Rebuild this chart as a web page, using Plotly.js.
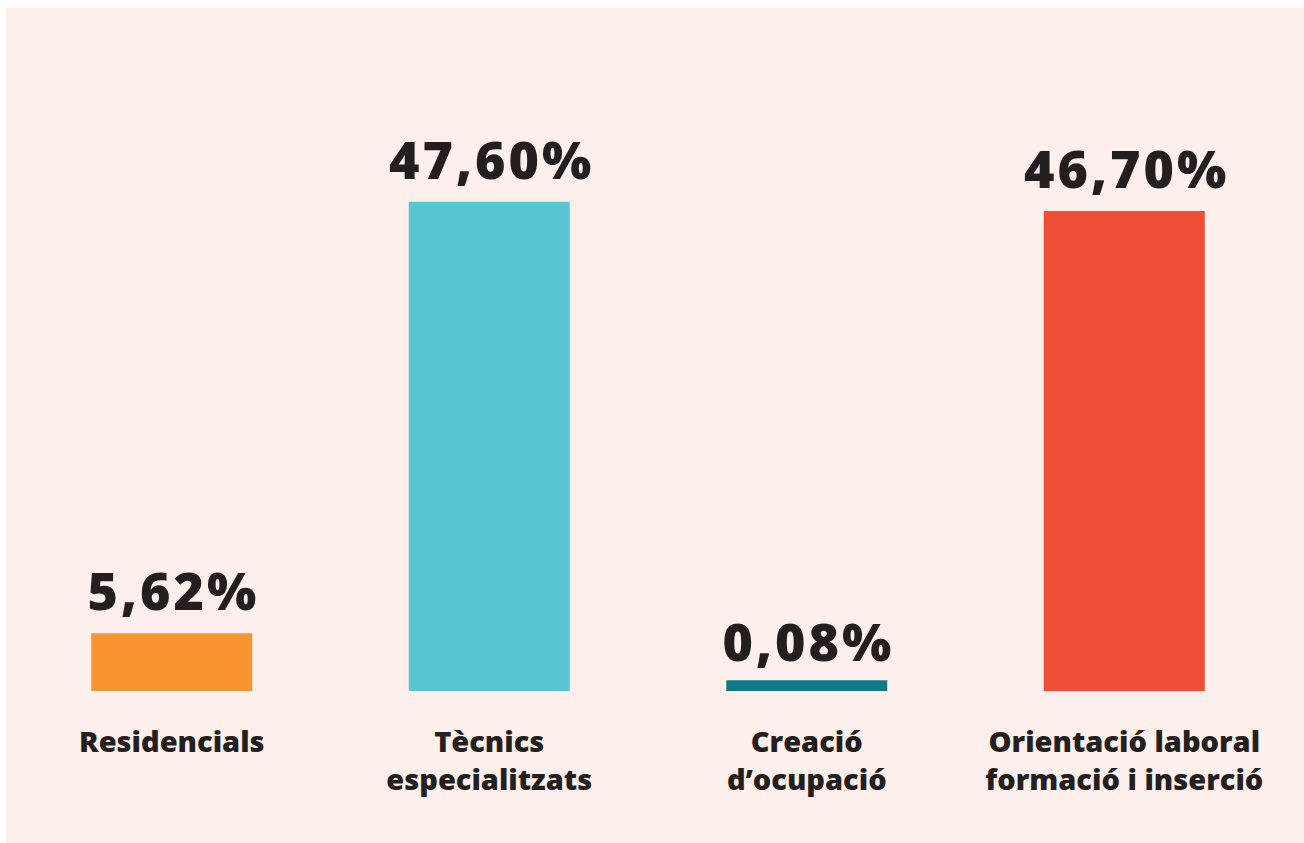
<!DOCTYPE html>
<html><head><meta charset="utf-8">
<script src="https://cdn.plot.ly/plotly-3.0.1.min.js"></script>
<style>
html,body{margin:0;padding:0;background:#ffffff;}
#chart{position:absolute;left:6px;top:8px;width:1298px;height:835px;}
#chart .annotation-text{letter-spacing:3px;}
</style></head>
<body><div id="chart"></div>
<script>
const categories = ["Residencials", "Tècnics<br>especialitzats", "Creació<br>d’ocupació", "Orientació laboral<br>formació i inserció"];
const values = [5.62, 47.60, 0.08, 46.70];
const colors = ["#f7942f", "#58c5d2", "#0e7a88", "#ee4e36"];

const trace = {
  type: "bar",
  x: categories,
  y: values,
  width: [0.507, 0.507, 0.444, 0.507],
  marker: {color: colors, line: {color: colors, width: [0, 0, 20, 0]}},
  hoverinfo: "none",
  cliponaxis: true
};

const annotations = values.map((v, i) => ({
  x: categories[i], y: v, xref: "x", yref: "y",
  text: v.toFixed(2).replace(".", ",") + "%",
  showarrow: false, yanchor: "bottom", yshift: (i === 2 ? 12 : 6), xshift: 2,
  font: {family: "Open Sans", size: 52, color: "#231f20", weight: 800}
}));

const layout = {
  width: 1298, height: 835,
  paper_bgcolor: "#fdefeb", plot_bgcolor: "#fdefeb",
  margin: {l: 7, r: 20.5, t: 168.5, b: 152},
  showlegend: false,
  xaxis: {
    type: "category", showgrid: false, zeroline: false, showline: false, ticks: "",
    ticklabelstandoff: 31,
    tickfont: {family: "Open Sans", size: 29, color: "#231f20", weight: 800}
  },
  yaxis: {range: [0, 50], visible: false, fixedrange: true},
  annotations: annotations
};

Plotly.newPlot("chart", [trace], layout, {displayModeBar: false, staticPlot: true});
</script></body></html>
